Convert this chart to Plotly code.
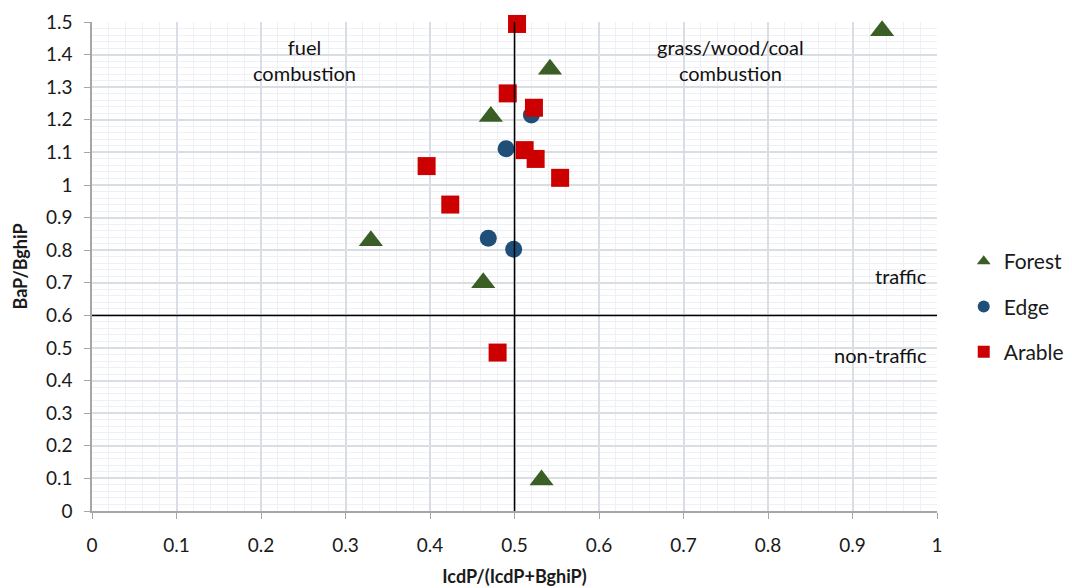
import plotly.graph_objects as go

# Data
forest_x = [0.935, 0.542, 0.472, 0.330, 0.463, 0.532]
forest_y = [1.473, 1.355, 1.210, 0.829, 0.700, 0.095]

edge_x = [0.520, 0.490, 0.469, 0.499]
edge_y = [1.215, 1.111, 0.837, 0.803]

arable_x = [0.503, 0.492, 0.523, 0.512, 0.525, 0.554, 0.396, 0.424, 0.480]
arable_y = [1.494, 1.281, 1.237, 1.107, 1.080, 1.022, 1.058, 0.940, 0.486]

vline_x = 0.5
hline_y = 0.6

FONT = "Lato"
fig = go.Figure()

fig.add_trace(go.Scatter(x=forest_x, y=forest_y, mode="markers", name="Forest",
                         legendgroup="f",
                         marker=dict(symbol="triangle-up", size=21, color="#3b5e26"),
                         cliponaxis=False))
fig.add_trace(go.Scatter(x=edge_x, y=edge_y, mode="markers", name="Edge",
                         legendgroup="e",
                         marker=dict(symbol="circle", size=17, color="#1f4e79"),
                         cliponaxis=False))
fig.add_trace(go.Scatter(x=arable_x, y=arable_y, mode="markers", name="Arable",
                         legendgroup="a",
                         marker=dict(symbol="square", size=18, color="#cc0000"),
                         cliponaxis=False))

fig.add_shape(type="line", x0=vline_x, x1=vline_x, y0=0, y1=1.5, xref="x", yref="y",
              line=dict(color="black", width=1.5))
fig.add_shape(type="line", x0=0, x1=1, y0=hline_y, y1=hline_y, xref="x", yref="y",
              line=dict(color="black", width=1.5))

ann_font = dict(family=FONT, size=20, color="#111111")
fig.add_annotation(x=0.251, y=1.383, text="fuel<br>combustion", showarrow=False,
                   xref="x", yref="y", font=ann_font, align="center")
fig.add_annotation(x=0.756, y=1.383, text="grass/wood/coal<br>combustion", showarrow=False,
                   xref="x", yref="y", font=ann_font, align="center")
fig.add_annotation(x=0.99, y=0.72, text="traffic", showarrow=False, xanchor="right",
                   xref="x", yref="y", font=ann_font)
fig.add_annotation(x=0.99, y=0.48, text="non-traffic", showarrow=False, xanchor="right",
                   xref="x", yref="y", font=ann_font)

axis_common = dict(
    showline=True, linecolor="#a6a6a6", linewidth=1.5,
    ticks="outside", ticklen=6, tickcolor="#a6a6a6",
    showgrid=True, gridcolor="#d9dde6", gridwidth=1.5,
    zeroline=False,
    tickfont=dict(family=FONT, size=19, color="#1a1a1a"),
)

fig.update_xaxes(range=[0, 1], dtick=0.1, tick0=0,
                 minor=dict(dtick=0.02, showgrid=True, gridcolor="#eef0f5", gridwidth=1),
                 ticklabelstandoff=10,
                 title=dict(text="<b>IcdP/(IcdP+BghiP)</b>", font=dict(family=FONT, size=18, color="#1a1a1a"),
                            standoff=16),
                 **axis_common)
fig.update_yaxes(range=[0, 1.5], dtick=0.1, tick0=0,
                 minor=dict(dtick=0.02, showgrid=True, gridcolor="#eef0f5", gridwidth=1),
                 ticklabelstandoff=8,
                 title=dict(text="<b>BaP/BghiP</b>", font=dict(family=FONT, size=18, color="#1a1a1a"),
                            standoff=14),
                 **axis_common)

fig.update_layout(
    width=1072, height=588,
    margin=dict(l=92, r=135, t=22, b=77, autoexpand=False),
    plot_bgcolor="white", paper_bgcolor="white",
    font=dict(family=FONT),
    legend=dict(xref="container", x=0.899, y=0.418, xanchor="left", yanchor="middle",
                font=dict(family=FONT, size=21, color="#1a1a1a"),
                traceorder="grouped", tracegroupgap=15,
                itemsizing="constant"),
)

fig.write_html("out.html")
